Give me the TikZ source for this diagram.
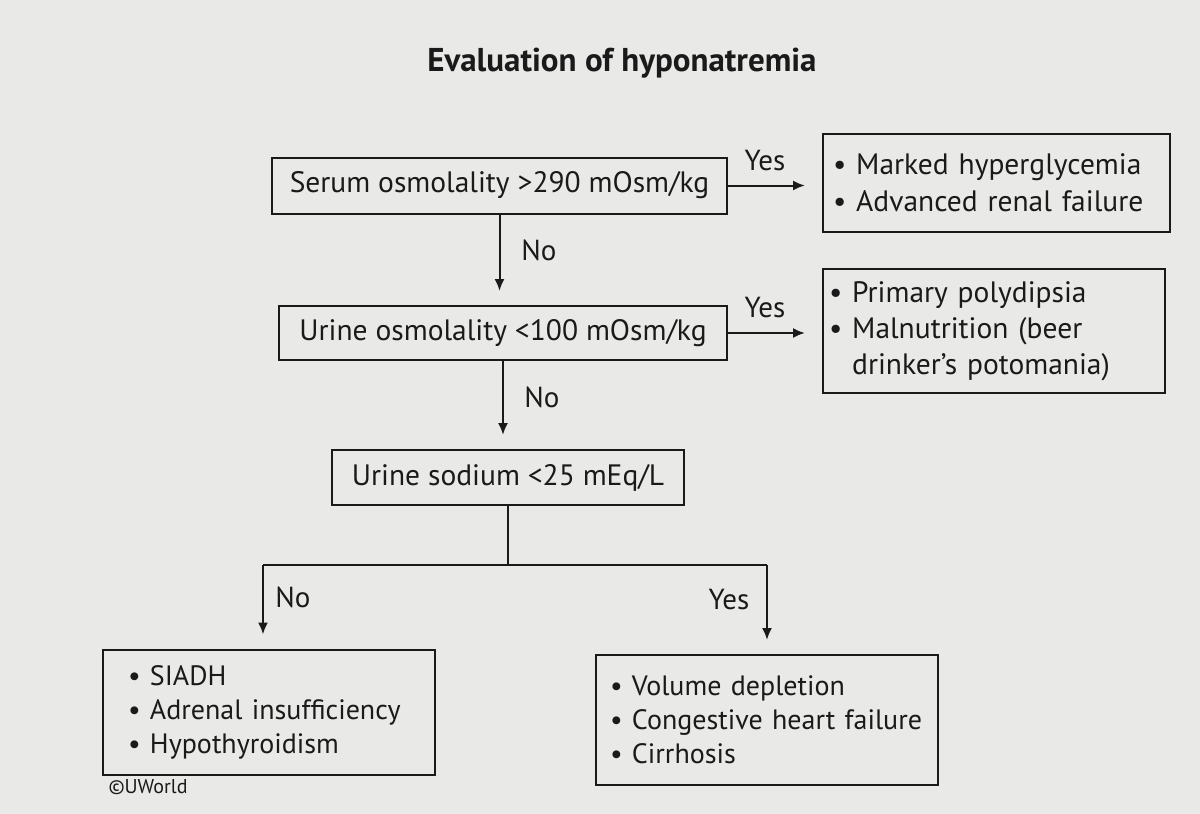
\documentclass[tikz,border=0pt]{standalone}
\usepackage{fontspec}
\setmainfont{PT Sans}
\usetikzlibrary{arrows.meta}
\definecolor{bg}{HTML}{E9E9E7}
\definecolor{ink}{HTML}{1A1A1A}
\tikzset{
  box/.style={draw=ink, line width=2pt, fill=none, text=ink, inner ysep=0pt,
    font=\fontsize{29.5}{37}\selectfont},
  lbox/.style={box, align=left, font=\fontsize{28}{34}\selectfont},
  lbl/.style={text=ink, inner sep=0pt, font=\fontsize{29}{32}\selectfont},
  arr/.style={draw=ink, line width=2pt, -{Latex[length=12pt,width=10pt]}},
  ln/.style={draw=ink, line width=2pt},
}
\begin{document}
\begin{tikzpicture}[x=1pt,y=-1pt]
\useasboundingbox (0,0) rectangle (1200,814);
\fill[bg] (0,0) rectangle (1200,814);

\node[text=ink, font=\fontsize{33}{36}\selectfont\bfseries] (title) at (622,63) {Evaluation of hyponatremia};

\node[box, minimum width=455pt, minimum height=56pt, inner xsep=0pt] (b1) at (499.5,185.5) {Serum osmolality >290 mOsm/kg};
\node[box, minimum width=448pt, minimum height=54pt, inner xsep=0pt] (b2) at (503,333) {Urine osmolality <100 mOsm/kg};
\node[box, minimum width=352pt, minimum height=55pt, inner xsep=0pt] (b3) at (508,477.5) {Urine sodium <25 mEq/L};

\node[box, align=left, minimum height=98pt, text width=327pt, inner xsep=10pt] (r1) at (996.5,183)
  {\mbox{• Marked hyperglycemia}\\ \mbox{• Advanced renal failure}};
\node[box, align=left, minimum height=124pt, text width=330pt, inner xsep=6pt, font=\fontsize{29.5}{36}\selectfont] (r2) at (994,331)
  {\mbox{• Primary polydipsia}\\ \mbox{• Malnutrition (beer}\\ \mbox{\phantom{• }drinker’s potomania)}};

\node[lbox, minimum height=125pt, text width=282pt, inner xsep=25pt] (lb) at (269,712)
  {\mbox{• SIADH}\\ \mbox{• Adrenal insufficiency}\\ \mbox{• Hypothyroidism}};
\node[lbox, minimum height=130pt, text width=314pt, inner xsep=14pt] (rb) at (767,720)
  {\mbox{• Volume depletion}\\ \mbox{• Congestive heart failure}\\ \mbox{• Cirrhosis}};

\coordinate (jl) at (263,565);
\coordinate (jr) at (767,565);

\draw[arr, shorten >=14pt] (b1.south) -- (b1.south |- b2.north);
\draw[arr, shorten >=14pt] (b2.south) -- (b2.south |- b3.north);
\draw[arr, shorten >=17pt] (b1.east) -- (r1.west |- b1.east);
\draw[arr, shorten >=17pt] (b2.east) -- (r2.west |- b2.east);
\draw[ln] (b3.south) -- (b3.south |- jl);
\draw[ln] (jl) -- (jr);
\draw[arr, shorten >=14pt] (jl) -- (jl |- lb.north);
\draw[arr, shorten >=14pt] (jr) -- (jr |- rb.north);

\node[lbl] (y1) at (765,161) {Yes};
\node[lbl] (n1) at (539,250) {No};
\node[lbl] (y2) at (765,308) {Yes};
\node[lbl] (n2) at (542,397) {No};
\node[lbl] (n3) at (293,597) {No};
\node[lbl] (y3) at (729,600) {Yes};

\node[text=ink, inner sep=0pt, font=\fontsize{20}{22}\selectfont] (cr) at (148,787) {©UWorld};
\end{tikzpicture}
\end{document}
